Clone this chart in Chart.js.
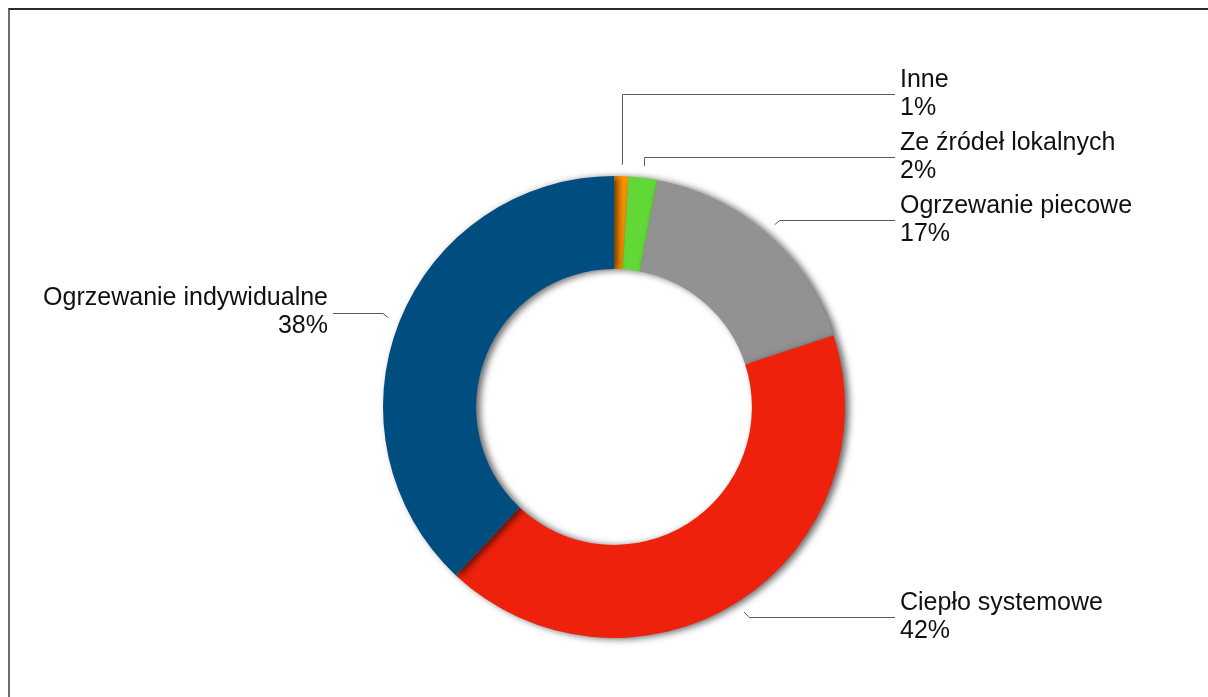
<!DOCTYPE html>
<html>
<head>
<meta charset="utf-8">
<script src="https://cdn.jsdelivr.net/npm/chart.js@4/dist/chart.umd.min.js"></script>
<style>
  html, body { margin: 0; padding: 0; background: #fff; overflow: hidden; }
  #frame {
    position: absolute; left: 8px; top: 8px; width: 1300px; height: 800px;
    border-top: 2px solid #2a2a2a; border-left: 2px solid #6b6b6b;
  }
  #chart { position: absolute; left: 0; top: 0; }
</style>
</head>
<body>
<div id="frame"></div>
<canvas id="chart" width="1208" height="697"></canvas>
<script>
// ===== Data =====
const categories = ["Inne", "Ze źródeł lokalnych", "Ogrzewanie piecowe", "Ciepło systemowe", "Ogrzewanie indywidualne"];
const shares = [1, 2, 17, 42, 38];
const sliceColors = ["#FF9300", "#61D836", "#929292", "#EE220C", "#004D80"];

const FONT = '25px "Liberation Sans", Arial, Helvetica, sans-serif';

// ===== Soft shadow under the ring =====
const ringShadow = {
  id: "ringShadow",
  beforeDatasetsDraw(chart) {
    const ctx = chart.ctx;
    ctx.save();
    ctx.shadowColor = "rgba(0,0,0,0.6)";
    ctx.shadowBlur = 7;
    ctx.shadowOffsetX = 4;
    ctx.shadowOffsetY = 1;
  },
  afterDatasetsDraw(chart) {
    chart.ctx.restore();
  }
};

// ===== Callout labels with leader lines =====
const calloutLabels = {
  id: "calloutLabels",
  afterDraw(chart) {
    const ctx = chart.ctx;
    const meta = chart.getDatasetMeta(0);
    const total = shares.reduce((a, b) => a + b, 0);
    const gap = 63;
    const items = meta.data.map((arc, i) => {
      const mid = (arc.startAngle + arc.endAngle) / 2;
      const r = arc.outerRadius + 12;
      const x0 = arc.x + Math.cos(mid) * r;
      const y0 = arc.y + Math.sin(mid) * r;
      const dir = Math.cos(mid) >= 0 ? 1 : -1;
      const dy = Math.sin(mid) >= 0 ? 5 : -5;
      return {
        i, x0, y0, dir, cx: arc.x,
        natural: y0 + dy,
        y: y0 + dy,
        text: categories[i],
        pct: Math.round(shares[i] / total * 100) + "%"
      };
    });

    // push overlapping labels upward, per side
    [1, -1].forEach(side => {
      const list = items.filter(it => it.dir === side).sort((a, b) => a.natural - b.natural);
      for (let k = list.length - 2; k >= 0; k--) {
        list[k].y = Math.min(list[k].natural, list[k + 1].y - gap);
      }
    });

    ctx.save();
    ctx.strokeStyle = "#5a5a5a";
    ctx.lineWidth = 1;
    ctx.font = FONT;
    ctx.fillStyle = "#111";
    ctx.textBaseline = "middle";
    items.forEach(it => {
      const textX = it.cx + it.dir * 286;
      const lineEnd = textX - it.dir * 5;
      const yy = Math.round(it.y) + 0.5;
      ctx.beginPath();
      ctx.moveTo(it.x0, it.y0);
      if (it.y < it.natural - 0.5) {
        ctx.lineTo(Math.round(it.x0) + 0.5, it.y0);
        ctx.lineTo(Math.round(it.x0) + 0.5, yy);
      } else {
        ctx.lineTo(it.x0 + it.dir * 5, yy);
      }
      ctx.lineTo(lineEnd, yy);
      ctx.stroke();

      ctx.textAlign = it.dir > 0 ? "left" : "right";
      ctx.fillText(it.text, textX, it.y - 14);
      ctx.fillText(it.pct, textX, it.y + 14);
    });
    ctx.restore();
  }
};

new Chart(document.getElementById("chart"), {
  type: "doughnut",
  data: {
    labels: categories,
    datasets: [{
      data: shares,
      backgroundColor: sliceColors,
      borderWidth: 0,
      clip: false
    }]
  },
  options: {
    responsive: false,
    animation: false,
    cutout: "59.7%",
    events: [],
    layout: { padding: { left: 383, right: 363, top: 176, bottom: 59 } },
    plugins: {
      legend: { display: false },
      tooltip: { enabled: false }
    }
  },
  plugins: [ringShadow, calloutLabels]
});
</script>
</body>
</html>
